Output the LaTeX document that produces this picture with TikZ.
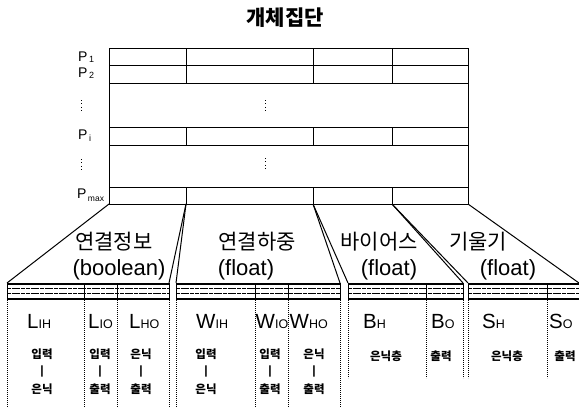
\documentclass[tikz,border=0pt]{standalone}
\usepackage{fontspec}
\setmainfont{Liberation Sans}
\newfontfamily\kr{Noto Sans CJK KR}
\begin{document}
\begin{tikzpicture}[x=1pt,y=-1pt,
  tline/.style={line width=1pt},
  conn/.style={line width=1pt},
  bandtop/.style={line width=1.6pt},
  bandbot/.style={line width=2.4pt},
  bandmid/.style={line width=0.7pt,dash pattern=on 4pt off 0.7pt},
  dotv/.style={line width=0.8pt,dash pattern=on 0.8pt off 1.2pt},
  vdots/.style={line width=0.8pt,dash pattern=on 0.8pt off 2.6pt},
  title/.style={font=\kr\bfseries\fontsize{21}{21}\selectfont},
  big/.style={font=\kr\fontsize{21}{21}\selectfont},
  lat/.style={font=\fontsize{22}{22}\selectfont},
  sym/.style={font=\fontsize{20.5}{20.5}\selectfont,anchor=base west,inner sep=0pt},
  plab/.style={font=\fontsize{14}{14}\selectfont,anchor=base west,inner sep=0pt},
  small/.style={font=\kr\bfseries\fontsize{11.5}{11.5}\selectfont,inner sep=0pt},
  bar/.style={font=\fontsize{12}{12}\selectfont\bfseries,inner sep=0pt}
]
\useasboundingbox (0,0) rectangle (579,407);

% title
\node[title] (title) at (285,18) {개체집단};

% population table
\coordinate (TL) at (109,48);
\coordinate (BRc) at (468,204);
\draw[tline] (TL) rectangle (BRc);
\foreach \y in {65.5,83,127,145,187} \draw[tline] (109,\y) -- (468,\y);
\foreach \x in {186,313,392} {
  \draw[tline] (\x,48) -- (\x,83);
  \draw[tline] (\x,127) -- (\x,145);
  \draw[tline] (\x,187) -- (\x,204);
}
\draw[vdots] (81,100) -- (81,111);
\draw[vdots] (81,159) -- (81,170);
\draw[vdots] (265,100) -- (265,111);
\draw[vdots] (265,158) -- (265,169);

% row labels
\node[plab] (p1) at (78,61) {P\raisebox{-1pt}{\fontsize{9}{9}\selectfont\,1}};
\node[plab] (p2) at (78,77) {P\raisebox{-1pt}{\fontsize{9}{9}\selectfont\,2}};
\node[plab] (pi) at (78,139) {P\raisebox{-2pt}{\fontsize{9}{9}\selectfont\,i}};
\node[plab] (pm) at (77,198) {P\raisebox{-3pt}{\fontsize{8.5}{8.5}\selectfont\,max}};

% table bottom points
\coordinate (t0) at (109,204);
\coordinate (t1) at (186,204);
\coordinate (t2) at (313,204);
\coordinate (t3) at (392,204);
\coordinate (t4) at (468,204);

% band corners
\coordinate (g1L) at (7,283);   \coordinate (g1R) at (169,283);
\coordinate (g2L) at (176,283); \coordinate (g2R) at (340,283);
\coordinate (g3L) at (348,283); \coordinate (g3R) at (463,283);
\coordinate (g4L) at (468,283); \coordinate (g4R) at (579,283);

% connectors
\draw[conn] (t0) -- (g1L);
\draw[conn] (t1) -- (g1R);
\draw[conn] (t1) -- (g2L);
\draw[conn] (t2) -- (g2R);
\draw[conn] (t2) -- (g3L);
\draw[conn] (t3) -- (g3R);
\draw[conn] (t3) -- (g4L);
\draw[conn] (t4) -- (g4R);

% bands
\foreach \l/\r in {7/169,176/340,348/463,468/579} {
  \draw[bandtop] (\l,283.8) -- (\r,283.8);
  \draw[bandmid] (\l,288.8) -- (\r,288.8);
  \draw[bandmid] (\l,293.6) -- (\r,293.6);
  \draw[bandbot] (\l,299) -- (\r,299);
}
\foreach \x in {7,84,117,169,176,255,288,340,348,426,463,468,547} {
  \draw[tline] (\x,283) -- (\x,300);
}
\foreach \x in {7,84,117,169,176,255,288,340} \draw[dotv] (\x,300) -- (\x,407);
\foreach \x in {348,426,463,468,547} \draw[dotv] (\x,300) -- (\x,378);

% group labels
\node[big] (k1) at (114,242) {연결정보};
\node[lat] (e1) at (119,270) {(boolean)};
\node[big] (k2) at (257,242) {연결하중};
\node[lat] (e2) at (246,270) {(float)};
\node[big] (k3) at (379,242) {바이어스};
\node[lat] (e3) at (389,270) {(float)};
\node[big] (k4) at (478,242) {기울기};
\node[lat] (e4) at (508,270) {(float)};

% field symbols
\newcommand{\fsub}[1]{{\fontsize{12.5}{12.5}\selectfont #1}}
\node[sym] (lih) at (27,328) {L\fsub{IH}};
\node[sym] (lio) at (88,328) {L\fsub{IO}};
\node[sym] (lho) at (129,328) {L\fsub{HO}};
\node[sym] (wih) at (196,328) {W\fsub{IH}};
\node[sym] (wio) at (255.5,328) {W\fsub{IO}};
\node[sym] (who) at (289.5,328) {W\fsub{HO}};
\node[sym] (bh) at (363,328) {B\fsub{H}};
\node[sym] (bo) at (431,328) {B\fsub{O}};
\node[sym] (sh) at (482,328) {S\fsub{H}};
\node[sym] (so) at (549,328) {S\fsub{O}};

% small descriptions
\foreach \x/\a/\b/\n in {42/입력/은닉/a,100/입력/출력/b,141/은닉/출력/c,206/입력/은닉/d,270/입력/출력/e,314/은닉/출력/f} {
  \node[small] (s\n1) at (\x,354) {\a};
  \node[bar] (s\n2) at (\x,371) {|};
  \node[small] (s\n3) at (\x,389) {\b};
}
\node[small] (sg1) at (386,356) {은닉층};
\node[small] (sg2) at (441,356) {출력};
\node[small] (sg3) at (507,356) {은닉층};
\node[small] (sg4) at (565,356) {출력};
\end{tikzpicture}
\end{document}
